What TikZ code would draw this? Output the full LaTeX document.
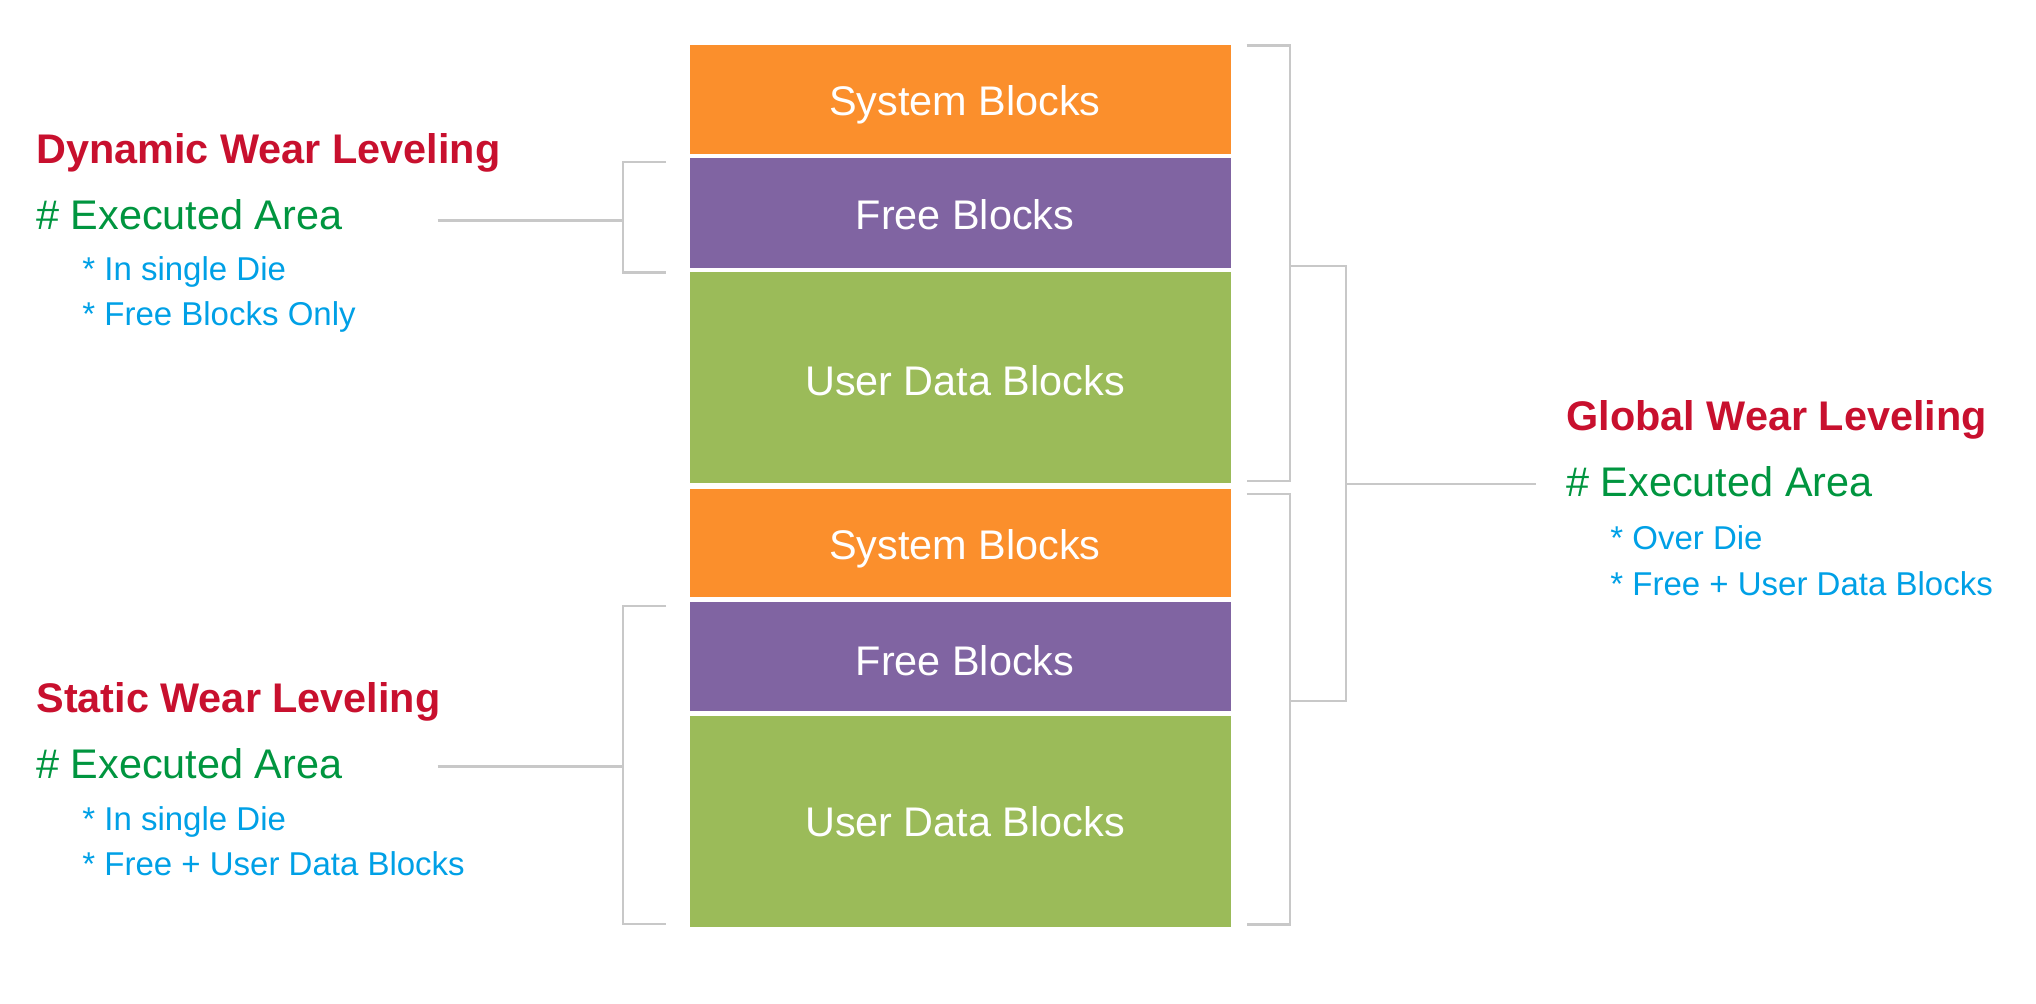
\documentclass[tikz,border=0pt]{standalone}
\usepackage{fontspec}
\setmainfont{Liberation Sans}
\definecolor{blkorange}{HTML}{FB8F2C}
\definecolor{blkpurple}{HTML}{8064A2}
\definecolor{blkgreen}{HTML}{9BBB59}
\definecolor{headred}{HTML}{C8102E}
\definecolor{areagreen}{HTML}{00953F}
\definecolor{itemblue}{HTML}{00A0E6}
\definecolor{linegray}{HTML}{C8C8C8}
\tikzset{
  blk/.style={draw=none, inner sep=0pt, text=white, font=\fontsize{20.7pt}{24pt}\selectfont},
  head/.style={anchor=base west, inner sep=0pt, text=headred, font=\bfseries\fontsize{20.7pt}{24pt}\selectfont},
  area/.style={anchor=base west, inner sep=0pt, text=areagreen, font=\fontsize{20.7pt}{24pt}\selectfont},
  item/.style={anchor=base west, inner sep=0pt, text=itemblue, font=\fontsize{16.5pt}{20pt}\selectfont},
  brk/.style={draw=linegray, line width=1.2pt}
}
\begin{document}
\begin{tikzpicture}[x=0.5pt,y=-0.5pt]
\useasboundingbox (0,0) rectangle (2036,1004);
% blocks
\fill[blkorange] (689.5,45.5) rectangle (1231,154.5);
\fill[blkpurple] (689.5,158.5) rectangle (1231,268);
\fill[blkgreen]  (689.5,272.5) rectangle (1231,483);
\fill[blkorange] (689.5,489.5) rectangle (1231,597.5);
\fill[blkpurple] (689.5,602) rectangle (1231,711.5);
\fill[blkgreen]  (689.5,716.5) rectangle (1231,927);
\node[blk] (s1) at (965,105) {System Blocks};
\node[blk] (f1) at (965,215) {Free Blocks};
\node[blk] (u1) at (965,380.5) {User Data Blocks};
\node[blk] (s2) at (965,548.5) {System Blocks};
\node[blk] (f2) at (965,661) {Free Blocks};
\node[blk] (u2) at (965,822) {User Data Blocks};
% left texts: dynamic
\node[head] (dh) at (36,164) {Dynamic Wear Leveling};
\node[area] (da) at (36,229.5) {\# Executed Area};
\node[item] (d1) at (82,281) {* In single Die};
\node[item] (d2) at (82,326) {* Free Blocks Only};
% left texts: static
\node[head] (sh) at (36,712.5) {Static Wear Leveling};
\node[area] (sa) at (36,779) {\# Executed Area};
\node[item] (s1t) at (82,831) {* In single Die};
\node[item] (s2t) at (82,876) {* Free + User Data Blocks};
% right texts: global
\node[head] (gh) at (1566,431) {Global Wear Leveling};
\node[area] (ga) at (1566,497) {\# Executed Area};
\node[item] (g1) at (1610,549.5) {* Over Die};
\node[item] (g2) at (1610,596) {* Free + User Data Blocks};
% brackets
\coordinate (dcon) at (437.5,220.7);
\coordinate (scon) at (437.5,766.7);
\coordinate (gcon) at (1536,484);
\draw[brk] (666,162) -- (623,162) -- (623,272.7) -- (666,272.7);
\draw[brk] (dcon) -- (623,220.7);
\draw[brk] (666,606) -- (623,606) -- (623,924.3) -- (666,924.3);
\draw[brk] (scon) -- (623,766.7);
\draw[brk] (1246.6,45.5) -- (1290,45.5) -- (1290,481) -- (1246.6,481);
\draw[brk] (1246.6,494) -- (1290,494) -- (1290,924.5) -- (1246.6,924.5);
\draw[brk] (1290,266) -- (1346,266) -- (1346,701) -- (1290,701);
\draw[brk] (1346,484) -- (gcon);
\end{tikzpicture}
\end{document}
